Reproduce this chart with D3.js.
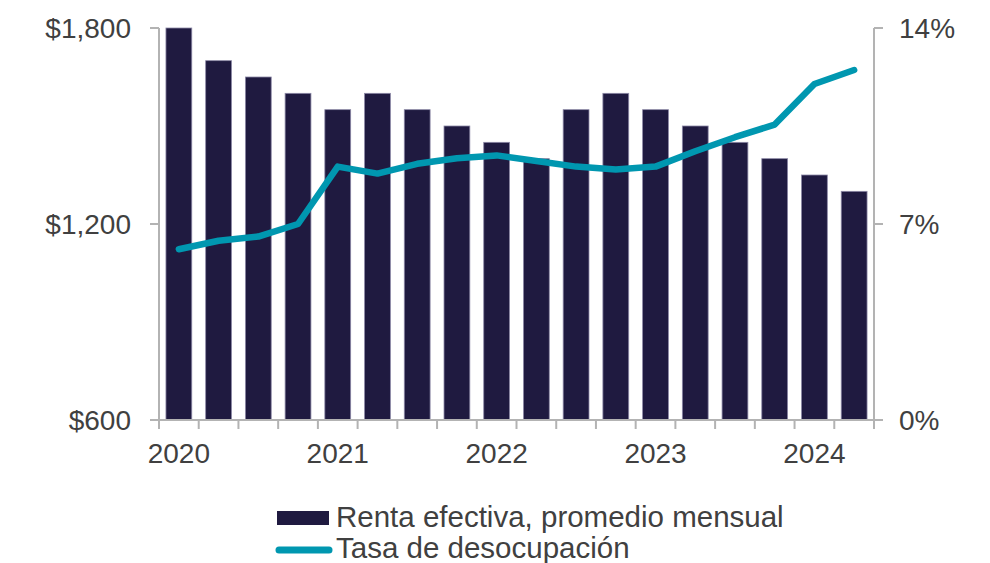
<!DOCTYPE html>
<html>
<head>
<meta charset="utf-8">
<script src="https://cdn.jsdelivr.net/npm/d3@7"></script>
<style>
  html, body { margin: 0; padding: 0; background: #ffffff; }
  svg { display: block; font-family: "Liberation Sans", Arial, sans-serif; }
</style>
</head>
<body>
<svg id="chart" width="990" height="563"></svg>
<script>
// Quarterly periods, 2020 T1 to 2024 T2
const quarters = [
  "2020 T1", "2020 T2", "2020 T3", "2020 T4",
  "2021 T1", "2021 T2", "2021 T3", "2021 T4",
  "2022 T1", "2022 T2", "2022 T3", "2022 T4",
  "2023 T1", "2023 T2", "2023 T3", "2023 T4",
  "2024 T1", "2024 T2"
];
// Effective rent, monthly average (USD)
const rentValues = [
  1800, 1700, 1650, 1600,
  1550, 1600, 1550, 1500,
  1450, 1400, 1550, 1600,
  1550, 1500, 1450, 1400,
  1350, 1300
];
// Vacancy rate (%)
const vacancyValues = [
  6.1, 6.4, 6.55, 7.0,
  9.05, 8.8, 9.15, 9.35,
  9.45, 9.25, 9.05, 8.95,
  9.05, 9.6, 10.1, 10.55,
  12.0, 12.5
];
// Axis ticks
const rentTicks = [600, 1200, 1800];
const vacancyTicks = [0, 7, 14];
const yearLabels = ["2020", "2021", "2022", "2023", "2024"];
const seriesNames = ["Renta efectiva, promedio mensual", "Tasa de desocupación"];

const barColor = "#1f1a40";
const barEdge = "#8c88a6";
const lineColor = "#0097b0";
const axisColor = "#b3b3b3";
const textColor = "#404040";
const fontSize = 28;
const legendFontSize = 29.5;

const svg = d3.select("#chart");
const plot = { left: 159, right: 874, top: 28, bottom: 420 };

const x = d3.scaleBand()
  .domain(quarters)
  .range([plot.left, plot.right])
  .paddingInner(0.35)
  .paddingOuter(0.175);

const yRent = d3.scaleLinear().domain([600, 1800]).range([plot.bottom, plot.top]);
const yVac = d3.scaleLinear().domain([0, 14]).range([plot.bottom, plot.top]);

// boundary between consecutive quarters
const edge = i => plot.left + i * x.step();

// Bars
svg.append("g")
  .selectAll("rect")
  .data(quarters)
  .join("rect")
  .attr("x", d => x(d))
  .attr("width", x.bandwidth())
  .attr("y", (d, i) => yRent(rentValues[i]))
  .attr("height", (d, i) => yRent(600) - yRent(rentValues[i]))
  .attr("fill", barColor)
  .attr("stroke", barEdge)
  .attr("stroke-width", 0.8);

// Axes
const axes = svg.append("g").attr("stroke", axisColor).attr("stroke-width", 2).attr("fill", "none");

// left axis
axes.append("line")
  .attr("x1", plot.left).attr("x2", plot.left)
  .attr("y1", yRent(1800)).attr("y2", yRent(600));
axes.selectAll("line.lt")
  .data(rentTicks)
  .join("line")
  .attr("class", "lt")
  .attr("x1", plot.left - 9).attr("x2", plot.left)
  .attr("y1", d => yRent(d)).attr("y2", d => yRent(d));

// right axis
axes.append("line")
  .attr("x1", plot.right).attr("x2", plot.right)
  .attr("y1", yVac(14)).attr("y2", yVac(0));
axes.selectAll("line.rt")
  .data(vacancyTicks)
  .join("line")
  .attr("class", "rt")
  .attr("x1", plot.right).attr("x2", plot.right + 9)
  .attr("y1", d => yVac(d)).attr("y2", d => yVac(d));

// bottom axis
axes.append("line")
  .attr("x1", plot.left - 9).attr("x2", plot.right + 9)
  .attr("y1", plot.bottom).attr("y2", plot.bottom);
axes.selectAll("line.bt")
  .data(d3.range(quarters.length + 1))
  .join("line")
  .attr("class", "bt")
  .attr("x1", i => edge(i)).attr("x2", i => edge(i))
  .attr("y1", plot.bottom).attr("y2", plot.bottom + 9);

// Tick labels
const labels = svg.append("g")
  .attr("fill", textColor)
  .attr("font-size", fontSize);

const fmtRent = d => "$" + d3.format(",")(d);
labels.selectAll("text.lt")
  .data(rentTicks)
  .join("text")
  .attr("class", "lt")
  .attr("x", 131)
  .attr("y", d => yRent(d))
  .attr("dy", "0.35em")
  .attr("text-anchor", "end")
  .text(fmtRent);

labels.selectAll("text.rt")
  .data(vacancyTicks)
  .join("text")
  .attr("class", "rt")
  .attr("x", 899)
  .attr("y", d => yVac(d))
  .attr("dy", "0.35em")
  .attr("text-anchor", "start")
  .text(d => d + "%");

labels.selectAll("text.bt")
  .data(yearLabels)
  .join("text")
  .attr("class", "bt")
  .attr("x", d => x(d + " T1") + x.bandwidth() / 2)
  .attr("y", 463)
  .attr("text-anchor", "middle")
  .text(d => d);

// Vacancy line
const line = d3.line()
  .x((d, i) => x(quarters[i]) + x.bandwidth() / 2)
  .y(d => yVac(d));

svg.append("path")
  .datum(vacancyValues)
  .attr("d", line)
  .attr("fill", "none")
  .attr("stroke", lineColor)
  .attr("stroke-width", 6.5)
  .attr("stroke-linejoin", "round")
  .attr("stroke-linecap", "round");

// Legend
const legend = svg.append("g").attr("font-size", legendFontSize).attr("fill", textColor);
legend.append("rect")
  .attr("x", 277).attr("y", 511)
  .attr("width", 52).attr("height", 14)
  .attr("fill", barColor);
legend.append("text")
  .attr("x", 336).attr("y", 527)
  .text(seriesNames[0]);
legend.append("line")
  .attr("x1", 279).attr("x2", 329)
  .attr("y1", 550).attr("y2", 550)
  .attr("stroke", lineColor)
  .attr("stroke-width", 7)
  .attr("stroke-linecap", "round");
legend.append("text")
  .attr("x", 336).attr("y", 558)
  .text(seriesNames[1]);
</script>
</body>
</html>
